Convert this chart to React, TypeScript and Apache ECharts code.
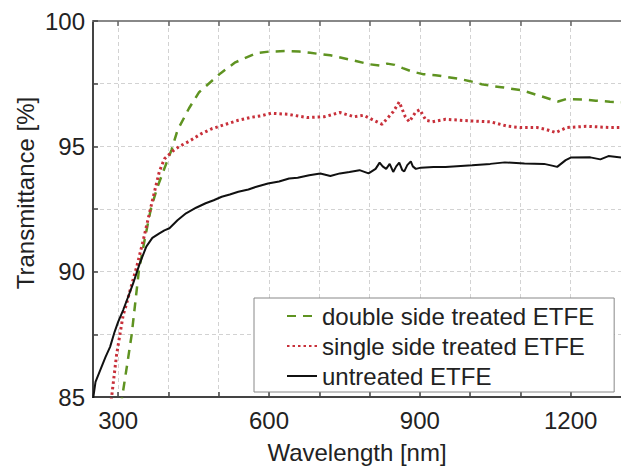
import React, { useEffect, useRef } from 'react';
import * as echarts from 'echarts';

const FONT = '"Liberation Sans", Arial, Helvetica, sans-serif';

const seriesNames = ['double side treated ETFE', 'single side treated ETFE', 'untreated ETFE'];

const doubleNm = [300, 308, 318, 327, 341, 353, 365, 378, 396, 406, 418, 441, 461, 504, 533, 575, 600, 633, 660, 682, 722, 761, 798, 820, 835, 850, 866, 885, 906, 931, 950, 976, 1000, 1023, 1045, 1062, 1102, 1141, 1160, 1175, 1192, 1225, 1250, 1278, 1300];
const doubleT = [84.0, 85.0, 86.3, 87.5, 90.0, 91.3, 92.5, 93.37, 94.33, 94.85, 95.64, 96.52, 97.16, 97.92, 98.35, 98.72, 98.78, 98.8, 98.78, 98.73, 98.63, 98.46, 98.28, 98.22, 98.3, 98.25, 98.12, 97.98, 97.88, 97.84, 97.78, 97.7, 97.6, 97.48, 97.4, 97.36, 97.24, 97.0, 96.88, 96.79, 96.89, 96.87, 96.82, 96.78, 96.76];

const singleNm = [280, 287, 297, 304, 310, 317, 324, 337, 350, 363, 373, 382, 392, 408, 422, 441, 465, 486, 514, 539, 565, 585, 604, 637, 676, 710, 741, 769, 788, 808, 825, 847, 859, 871, 879, 892, 900, 912, 925, 951, 996, 1040, 1075, 1100, 1133, 1150, 1170, 1192, 1231, 1278, 1300];
const singleT = [84.0, 85.0, 86.7, 87.55, 88.27, 88.74, 89.27, 90.2, 91.26, 92.4, 93.25, 94.0, 94.5, 94.8, 95.0, 95.2, 95.5, 95.7, 95.88, 96.04, 96.16, 96.22, 96.32, 96.28, 96.15, 96.18, 96.35, 96.18, 96.24, 96.04, 95.88, 96.38, 96.77, 96.18, 95.98, 96.38, 96.46, 96.04, 95.98, 96.08, 96.02, 95.98, 95.8, 95.75, 95.75, 95.68, 95.55, 95.75, 95.8, 95.75, 95.75];

const untreatedNm = [250, 255, 265, 275, 284, 293, 300, 310, 320, 330, 343, 356, 368, 382, 392, 402, 418, 435, 455, 474, 490, 506, 522, 539, 559, 575, 598, 620, 640, 657, 680, 702, 722, 741, 760, 780, 798, 812, 820, 826, 833, 840, 847, 853, 859, 865, 869, 875, 882, 886, 892, 902, 927, 951, 1004, 1040, 1069, 1108, 1147, 1165, 1173, 1190, 1200, 1239, 1259, 1275, 1300];
const untreatedT = [84.9, 85.6, 86.1, 86.6, 87.0, 87.6, 88.0, 88.47, 89.0, 89.54, 90.33, 91.0, 91.35, 91.53, 91.65, 91.73, 92.05, 92.33, 92.55, 92.73, 92.85, 92.99, 93.08, 93.19, 93.28, 93.39, 93.52, 93.6, 93.72, 93.75, 93.85, 93.92, 93.82, 93.92, 93.98, 94.05, 93.92, 94.1, 94.35, 94.2, 94.1, 94.3, 93.98, 94.2, 94.35, 94.05, 94.0, 94.25, 94.4, 94.2, 94.1, 94.15, 94.18, 94.18, 94.25, 94.3, 94.36, 94.32, 94.3, 94.22, 94.18, 94.45, 94.55, 94.56, 94.48, 94.61, 94.55];

const xTickValues = [300, 400, 500, 600, 700, 800, 900, 1000, 1100, 1200];
const xLabelValues = [300, 600, 900, 1200];
const yLabelValues = [85, 90, 95, 100];

const zip = (xs: number[], ys: number[]) => xs.map((x, i) => [x, ys[i]]);

export default function App() {
  const ref = useRef<HTMLDivElement>(null);
  useEffect(() => {
    const chart = echarts.init(ref.current!, null, { renderer: 'svg' });
    const gridLine = { show: true, lineStyle: { color: '#d2d2d2', type: [4, 3], width: 1 } };
    chart.setOption({
      animation: false,
      backgroundColor: '#fff',
      textStyle: { fontFamily: FONT },
      grid: { left: 93, top: 21, right: -7, bottom: 78, containLabel: false },
      xAxis: [
        {
          type: 'value', min: 250, max: 1300, position: 'bottom',
          axisLine: { show: true, onZero: false, lineStyle: { color: '#444', width: 2 } },
          axisTick: { show: true, inside: true, length: 5, customValues: xTickValues, lineStyle: { color: '#444', width: 1.5 } },
          axisLabel: { customValues: xLabelValues, formatter: (v: number) => String(v), fontSize: 24, color: '#222', margin: 11, fontFamily: FONT },
          splitLine: gridLine,
          name: 'Wavelength [nm]', nameLocation: 'middle', nameGap: 43,
          nameTextStyle: { fontSize: 24, color: '#222', fontFamily: FONT },
        },
        {
          type: 'value', min: 250, max: 1300, position: 'top',
          axisLine: { show: true, onZero: false, lineStyle: { color: '#888', width: 2 } },
          axisTick: { show: true, inside: true, length: 5, customValues: xTickValues, lineStyle: { color: '#666', width: 1.5 } },
          axisLabel: { show: false },
          splitLine: { show: false },
        },
      ],
      yAxis: {
        type: 'value', min: 85, max: 100, interval: 2.5,
        axisLine: { show: true, onZero: false, lineStyle: { color: '#444', width: 2 } },
        axisTick: { show: true, inside: true, length: 5, lineStyle: { color: '#444', width: 1.5 } },
        axisLabel: { customValues: yLabelValues, formatter: (v: number) => String(v), fontSize: 24, color: '#222', margin: 8, fontFamily: FONT },
        splitLine: gridLine,
      },
      legend: {
        orient: 'vertical', left: 254, top: 298,
        backgroundColor: '#fff', borderColor: '#888', borderWidth: 1, borderRadius: 0,
        padding: [5, 20, 3, 32], itemWidth: 30, itemHeight: 14, itemGap: 4,
        itemStyle: { opacity: 0 },
        textStyle: { fontSize: 24, lineHeight: 26, color: '#222', fontFamily: FONT },
        data: seriesNames,
      },
      graphic: [
        {
          type: 'text', x: 25, y: 193, rotation: Math.PI / 2,
          style: { text: 'Transmittance [%]', fontSize: 24, fill: '#222', align: 'center', verticalAlign: 'middle', fontFamily: FONT },
        },
      ],
      series: [
        {
          name: seriesNames[0], type: 'line', data: zip(doubleNm, doubleT), showSymbol: false, symbol: 'none',
          clip: true, lineStyle: { color: '#5f9321', width: 2.5, type: [9, 7] }, itemStyle: { color: '#5f9321' }, z: 3,
        },
        {
          name: seriesNames[1], type: 'line', data: zip(singleNm, singleT), showSymbol: false, symbol: 'none',
          clip: true, lineStyle: { color: '#c8303a', width: 3, type: [2.5, 3] }, itemStyle: { color: '#c8303a' }, z: 4,
        },
        {
          name: seriesNames[2], type: 'line', data: zip(untreatedNm, untreatedT), showSymbol: false, symbol: 'none',
          clip: true, lineStyle: { color: '#111', width: 2 }, itemStyle: { color: '#111' }, z: 5,
        },
      ],
    });
    return () => chart.dispose();
  }, []);
  return (
    <div
      ref={ref}
      style={{ position: 'fixed', left: 0, top: 0, width: 621, height: 475, background: '#fff' }}
    />
  );
}
